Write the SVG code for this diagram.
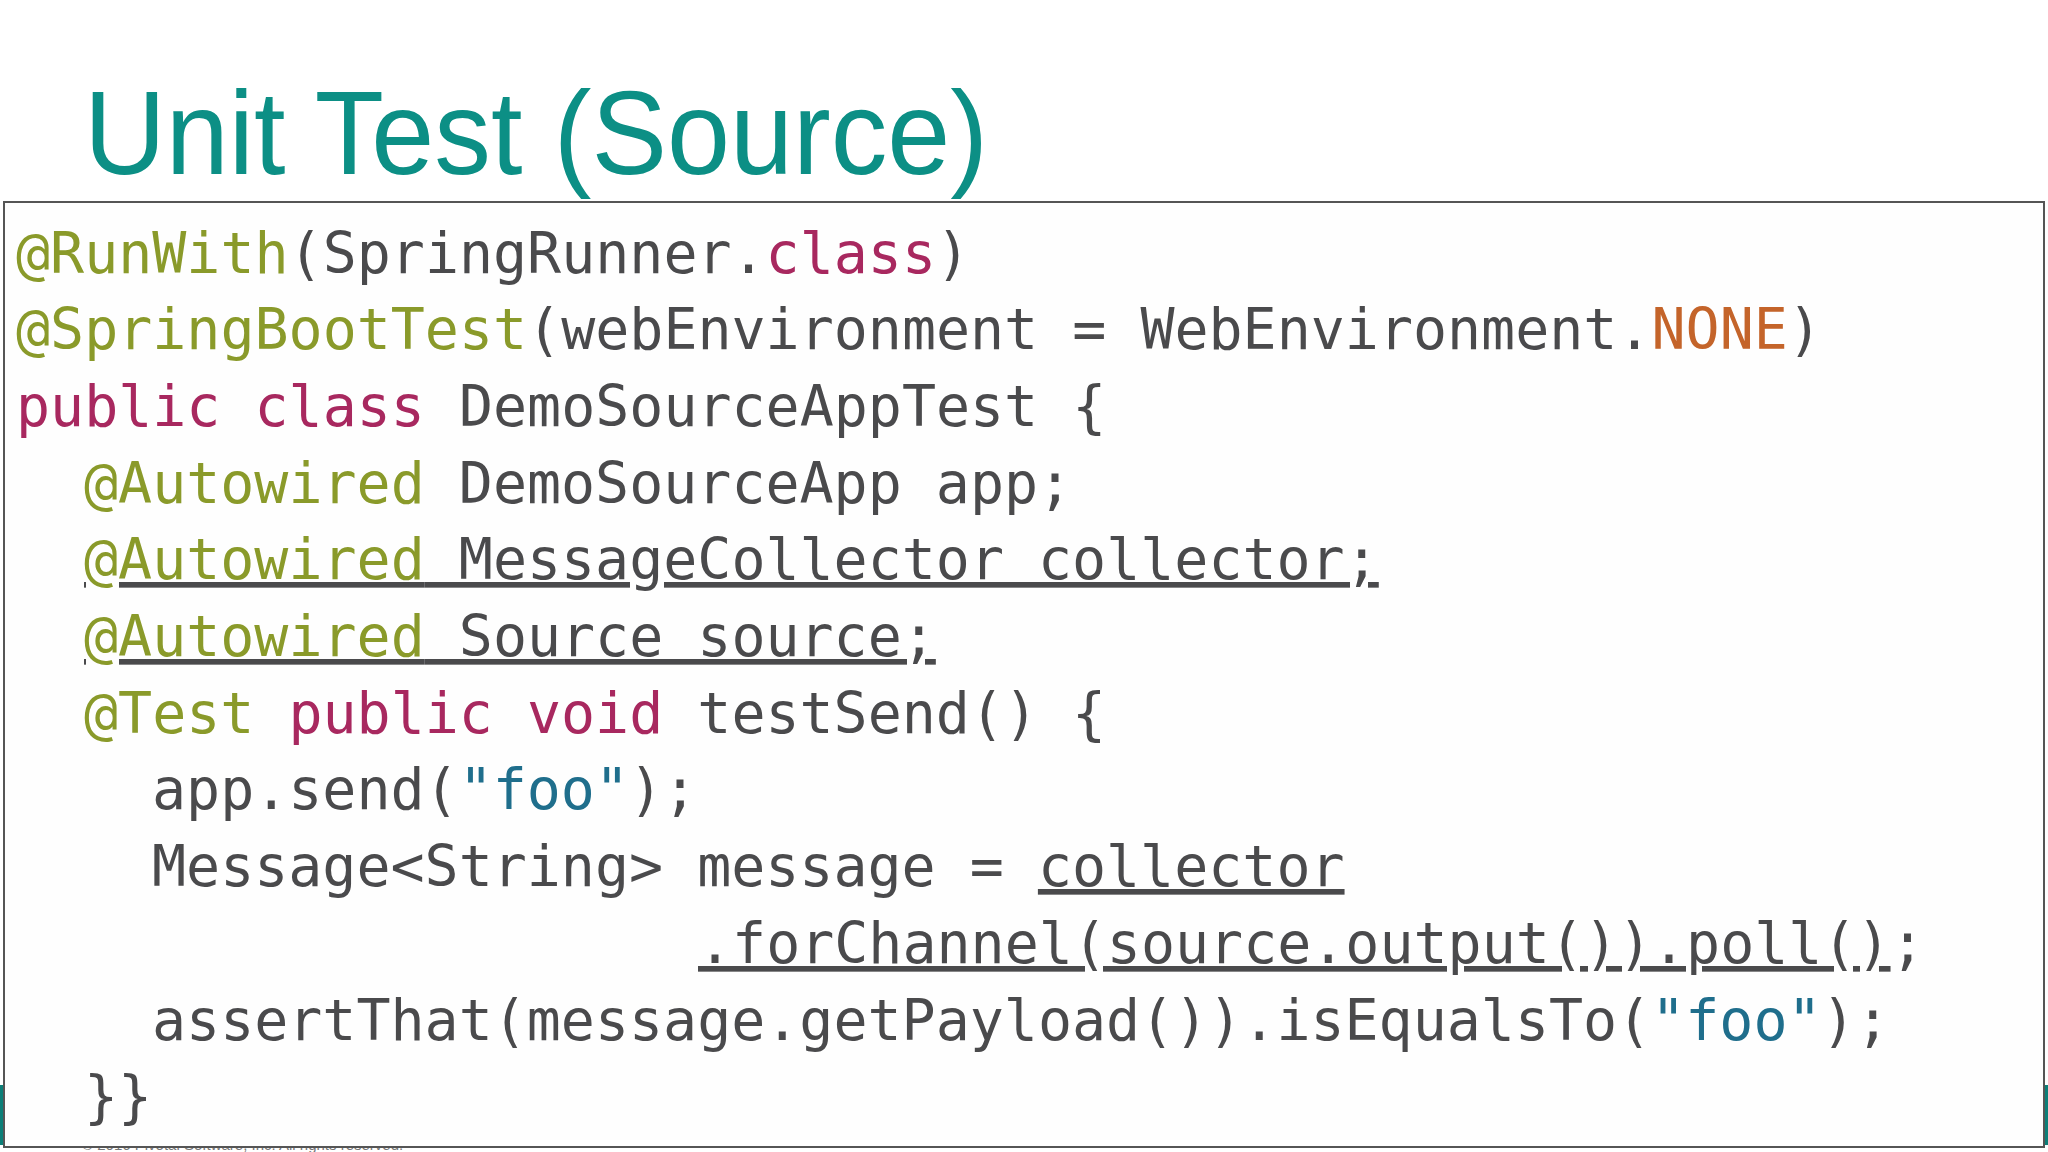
<svg xmlns="http://www.w3.org/2000/svg" width="2048" height="1152" viewBox="0 0 2048 1152">
<style>
.c{font-family:"DejaVu Sans Mono","Liberation Mono",monospace;font-size:56.6px;fill:#4a4a4c}
.g{fill:#8a9a2a}.m{fill:#a8285f}.o{fill:#c4642a}.b{fill:#1f6e8c}
.u{text-decoration:underline}
</style>
<rect width="2048" height="1152" fill="#ffffff"/>
<rect x="0" y="1085" width="2048" height="60" fill="#0c7f78"/>
<text x="82" y="1150" font-family="Liberation Sans,sans-serif" font-size="15" fill="#777">© 2016 Pivotal Software, Inc.  All rights reserved.</text>
<g id="title"><text x="84" y="174" font-family="Liberation Sans,Arial,sans-serif" font-size="118" fill="#0c8f85" textLength="904" lengthAdjust="spacingAndGlyphs">Unit Test (Source)</text></g>
<g id="code">
<rect x="4" y="202" width="2040" height="945" fill="#fefefe" stroke="#555" stroke-width="2"/>
<text class="c" xml:space="preserve">
<tspan x="16" y="273"><tspan class="g">@RunWith</tspan>(SpringRunner.<tspan class="m">class</tspan>)</tspan>
<tspan x="16" y="349"><tspan class="g">@SpringBootTest</tspan>(webEnvironment = WebEnvironment.<tspan class="o">NONE</tspan>)</tspan>
<tspan x="16" y="426"><tspan class="m">public class</tspan> DemoSourceAppTest {</tspan>
<tspan x="84" y="503"><tspan class="g">@Autowired</tspan> DemoSourceApp app;</tspan>
<tspan x="84" y="579" class="u"><tspan class="g">@Autowired</tspan> MessageCollector collector;</tspan>
<tspan x="84" y="656" class="u"><tspan class="g">@Autowired</tspan> Source source;</tspan>
<tspan x="84" y="733"><tspan class="g">@Test</tspan> <tspan class="m">public void</tspan> testSend() {</tspan>
<tspan x="152" y="809">app.send(<tspan class="b">"foo"</tspan>);</tspan>
<tspan x="152" y="886">Message&lt;String&gt; message = <tspan class="u">collector</tspan></tspan>
<tspan x="698" y="963"><tspan class="u">.forChannel(source.output()).poll()</tspan>;</tspan>
<tspan x="152" y="1040">assertThat(message.getPayload()).isEqualsTo(<tspan class="b">"foo"</tspan>);</tspan>
<tspan x="84" y="1116">}}</tspan>
</text>
</g>
</svg>
